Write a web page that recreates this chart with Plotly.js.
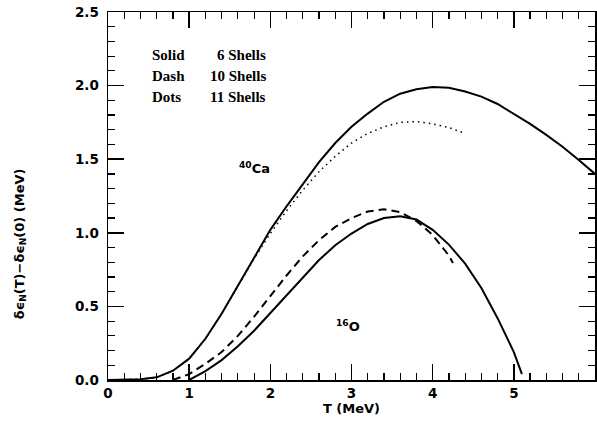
<!DOCTYPE html>
<html>
<head>
<meta charset="utf-8">
<script src="https://cdn.plot.ly/plotly-3.0.1.min.js"></script>
<style>html,body{margin:0;padding:0;background:#fff;}#chart{width:597px;height:421px;}</style>
</head>
<body>
<div id="chart"></div>
<script>
// 40Ca, 6 shells (solid)
var caSolidT = [0.0, 0.2, 0.4, 0.6, 0.8, 1.0, 1.2, 1.4, 1.6, 1.8, 2.0, 2.2, 2.4, 2.6, 2.8, 3.0, 3.2, 3.4, 3.6, 3.8, 4.0, 4.2, 4.4, 4.6, 4.8, 5.0, 5.2, 5.4, 5.6, 5.8, 6.0];
var caSolidE = [0.0, 0.0, 0.005, 0.018, 0.063, 0.145, 0.28, 0.45, 0.64, 0.84, 1.02, 1.18, 1.33, 1.48, 1.61, 1.72, 1.81, 1.89, 1.945, 1.975, 1.99, 1.985, 1.96, 1.925, 1.875, 1.81, 1.74, 1.665, 1.585, 1.495, 1.40];
// 40Ca, 11 shells (dots)
var caDotsT = [0.0, 0.2, 0.4, 0.6, 0.8, 1.0, 1.2, 1.4, 1.6, 1.8, 2.0, 2.2, 2.4, 2.6, 2.8, 3.0, 3.2, 3.4, 3.6, 3.8, 4.0, 4.2, 4.4];
var caDotsE = [0.0, 0.0, 0.005, 0.018, 0.063, 0.145, 0.28, 0.45, 0.635, 0.825, 0.995, 1.15, 1.29, 1.415, 1.52, 1.61, 1.675, 1.72, 1.75, 1.755, 1.74, 1.715, 1.675];
// 16O, 6 shells (solid)
var oSolidT = [1.0, 1.2, 1.4, 1.6, 1.8, 2.0, 2.2, 2.4, 2.6, 2.8, 3.0, 3.2, 3.4, 3.6, 3.8, 4.0, 4.2, 4.4, 4.6, 4.8, 5.0, 5.1];
var oSolidE = [0.0, 0.06, 0.135, 0.23, 0.335, 0.455, 0.58, 0.70, 0.815, 0.915, 0.995, 1.06, 1.10, 1.113, 1.09, 1.02, 0.92, 0.79, 0.625, 0.42, 0.19, 0.04];
// 16O, 10 shells (dash)
var oDashT = [0.8, 1.0, 1.2, 1.4, 1.6, 1.8, 2.0, 2.2, 2.4, 2.6, 2.8, 3.0, 3.2, 3.4, 3.6, 3.8, 4.0, 4.2, 4.25];
var oDashE = [0.0, 0.04, 0.11, 0.19, 0.30, 0.43, 0.57, 0.71, 0.84, 0.95, 1.04, 1.10, 1.145, 1.16, 1.14, 1.08, 0.985, 0.845, 0.795];

var xTicks = [0, 1, 2, 3, 4, 5, 6];
var yTicks = [0.0, 0.5, 1.0, 1.5, 2.0, 2.5];
var yTickText = ['0.0', '0.5', '1.0', '1.5', '2.0', '2.5'];

var traces = [
  {x: caSolidT, y: caSolidE, mode: 'lines', line: {color: '#000', width: 2}, hoverinfo: 'skip'},
  {x: caDotsT, y: caDotsE, mode: 'lines', line: {color: '#000', width: 1.5, dash: '1.5px,4px'}, hoverinfo: 'skip'},
  {x: oSolidT, y: oSolidE, mode: 'lines', line: {color: '#000', width: 2}, hoverinfo: 'skip'},
  {x: oDashT, y: oDashE, mode: 'lines', line: {color: '#000', width: 2, dash: '8px,5px'}, hoverinfo: 'skip'}
];

var labFont = {family: 'Liberation Serif, serif', size: 15, color: '#000', weight: 'bold'};
var tickFont = {family: 'DejaVu Sans, sans-serif', size: 13.5, color: '#000', weight: 'bold'};
var smallFont = {family: 'DejaVu Sans, sans-serif', size: 13, color: '#000', weight: 'bold'};

var layout = {
  width: 597, height: 421,
  margin: {l: 108, r: 2, t: 12, b: 41},
  paper_bgcolor: '#fff', plot_bgcolor: '#fff',
  showlegend: false,
  xaxis: {
    range: [0, 6], tickvals: xTicks, ticktext: xTicks.map(String),
    ticks: 'inside', ticklen: 16, tickwidth: 1.5, tickcolor: '#000',
    showline: true, linecolor: '#000', linewidth: 1.5, mirror: 'allticks',
    showgrid: false, zeroline: false, tickfont: tickFont,
    minor: {dtick: 0.2, ticks: 'inside', ticklen: 7, tickwidth: 1.2, tickcolor: '#000', showgrid: false},
    title: {text: 'T (MeV)', font: smallFont, standoff: 2}
  },
  yaxis: {
    range: [0, 2.5], tickvals: yTicks, ticktext: yTickText,
    ticks: 'inside', ticklen: 16, tickwidth: 1.5, tickcolor: '#000',
    showline: true, linecolor: '#000', linewidth: 1.5, mirror: 'allticks',
    showgrid: false, zeroline: false, tickfont: tickFont, ticklabelstandoff: 5,
    minor: {dtick: 0.1, ticks: 'inside', ticklen: 7, tickwidth: 1.2, tickcolor: '#000', showgrid: false}
  },
  annotations: [
    {xref: 'paper', yref: 'paper', x: -0.18, y: 0.37, xanchor: 'center', yanchor: 'middle', textangle: -90, showarrow: false,
     text: 'δϵ<sub>N</sub>(T)−δϵ<sub>N</sub>(0) (MeV)', font: smallFont},
    {xref: 'x', yref: 'y', x: 0.52, y: 2.21, xanchor: 'left', yanchor: 'middle', showarrow: false, text: 'Solid', font: labFont},
    {xref: 'x', yref: 'y', x: 1.97, y: 2.21, xanchor: 'right', yanchor: 'middle', showarrow: false, text: '6 Shells', font: labFont},
    {xref: 'x', yref: 'y', x: 0.52, y: 2.065, xanchor: 'left', yanchor: 'middle', showarrow: false, text: 'Dash', font: labFont},
    {xref: 'x', yref: 'y', x: 1.97, y: 2.065, xanchor: 'right', yanchor: 'middle', showarrow: false, text: '10 Shells', font: labFont},
    {xref: 'x', yref: 'y', x: 0.52, y: 1.92, xanchor: 'left', yanchor: 'middle', showarrow: false, text: 'Dots', font: labFont},
    {xref: 'x', yref: 'y', x: 1.97, y: 1.92, xanchor: 'right', yanchor: 'middle', showarrow: false, text: '11 Shells', font: labFont},
    {xref: 'x', yref: 'y', x: 1.81, y: 1.44, xanchor: 'center', yanchor: 'middle', showarrow: false, text: '<sup>40</sup>Ca', font: smallFont},
    {xref: 'x', yref: 'y', x: 2.96, y: 0.37, xanchor: 'center', yanchor: 'middle', showarrow: false, text: '<sup>16</sup>O', font: smallFont}
  ]
};

Plotly.newPlot('chart', traces, layout, {displayModeBar: false, staticPlot: true});
</script>
</body>
</html>
